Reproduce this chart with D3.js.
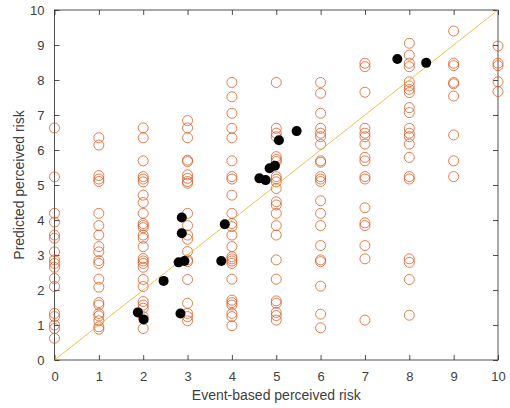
<!DOCTYPE html>
<html>
<head>
<meta charset="utf-8">
<script src="https://cdn.jsdelivr.net/npm/d3@7"></script>
<style>
  body { margin: 0; background: #fff; }
  text { font-family: "Liberation Sans", Arial, sans-serif; }
</style>
</head>
<body>
<div id="chart"></div>
<script>
// event-based risk levels and the predicted values seen at each level (open circles)
var levels = [0, 1, 2, 3, 4, 5, 6, 7, 8, 9, 10];
var predicted = [
    [6.63, 5.23, 4.19, 3.94, 3.57, 3.48, 3.09, 2.86, 2.76, 2.65, 2.33, 2.1, 1.33, 1.24, 1.0, 0.9, 0.62],
    [6.35, 6.14, 5.27, 5.17, 5.1, 4.19, 3.84, 3.57, 3.24, 3.09, 2.84, 2.76, 2.31, 2.08, 1.64, 1.57, 1.33, 1.26, 1.12, 0.95, 0.88],
    [6.63, 6.35, 5.69, 5.24, 5.17, 5.09, 4.71, 4.5, 4.19, 3.9, 3.84, 3.78, 3.57, 3.48, 3.24, 2.9, 2.83, 2.76, 2.65, 2.3, 2.1, 1.67, 1.57, 1.48, 1.24, 0.9],
    [6.84, 6.63, 6.35, 5.71, 5.67, 5.29, 5.19, 5.1, 5.05, 4.19, 3.84, 3.57, 3.45, 3.1, 2.86, 2.81, 2.3, 1.62, 1.33, 1.24, 1.12],
    [7.93, 7.52, 7.05, 6.62, 6.35, 5.69, 5.24, 5.17, 4.71, 4.19, 3.9, 3.81, 3.57, 3.24, 2.95, 2.89, 2.83, 2.76, 2.31, 1.71, 1.64, 1.57, 1.33, 1.24, 0.98],
    [7.93, 6.62, 6.48, 6.38, 5.81, 5.73, 5.67, 5.24, 5.17, 5.09, 4.9, 4.52, 4.43, 4.19, 3.84, 3.57, 2.86, 2.31, 1.69, 1.62, 1.36, 1.27, 1.14],
    [7.93, 7.62, 7.05, 6.62, 6.48, 6.38, 6.16, 5.69, 5.65, 5.24, 5.17, 5.1, 4.55, 4.19, 3.84, 3.27, 2.86, 2.81, 2.11, 1.31, 0.92],
    [8.48, 8.38, 7.65, 6.62, 6.48, 6.38, 6.17, 5.79, 5.69, 5.24, 5.17, 4.35, 3.92, 3.84, 3.27, 2.89, 1.14],
    [9.05, 8.71, 8.48, 8.38, 7.95, 7.83, 7.73, 7.64, 7.21, 7.07, 6.62, 6.48, 6.38, 6.17, 5.79, 5.24, 5.17, 2.89, 2.79, 2.3, 1.28],
    [9.4, 8.48, 8.41, 7.93, 7.89, 7.54, 6.43, 5.69, 5.24],
    [8.97, 8.48, 8.41, 7.95, 7.67]
];

// averaged points (filled black dots)
var meanX = [1.88, 2.01, 2.46, 2.84, 2.8, 2.93, 2.87, 2.87, 3.76, 3.84, 4.62, 4.76, 4.85, 4.97, 5.06, 5.46, 7.73, 8.38];
var meanY = [1.36, 1.16, 2.26, 1.33, 2.79, 2.83, 3.62, 4.07, 2.83, 3.88, 5.19, 5.14, 5.48, 5.55, 6.28, 6.54, 8.6, 8.49];

var tickValues = [0, 1, 2, 3, 4, 5, 6, 7, 8, 9, 10];

(function() {
    var width = 510,
        height = 408;
    var left = 54.5, right = 498, top = 10, bottom = 360;

    var svg = d3.select("#chart")
        .append("svg")
        .attr("width", width)
        .attr("height", height);

    var x = d3.scaleLinear().domain([0, 10]).range([left, right]);
    var y = d3.scaleLinear().domain([0, 10]).range([bottom, top]);

    var axisColor = "#262626";
    var labelColor = "#404040";

    // axes, ticks pointing inward like matlab
    function styleAxis(g) {
        g.select(".domain").remove();
        g.selectAll(".tick line").attr("stroke", axisColor).attr("stroke-width", 0.8);
        g.selectAll(".tick text").attr("fill", labelColor).attr("font-size", 13);
    }

    svg.append("g")
        .attr("transform", "translate(0," + bottom + ")")
        .call(d3.axisBottom(x).tickValues(tickValues).tickSizeInner(-5).tickPadding(12))
        .call(styleAxis);

    svg.append("g")
        .attr("transform", "translate(0," + top + ")")
        .call(d3.axisTop(x).tickValues(tickValues).tickSizeInner(-5).tickFormat(""))
        .call(styleAxis);

    svg.append("g")
        .attr("transform", "translate(" + left + ",0)")
        .call(d3.axisLeft(y).tickValues(tickValues).tickSizeInner(-5).tickPadding(10))
        .call(styleAxis);

    svg.append("g")
        .attr("transform", "translate(" + right + ",0)")
        .call(d3.axisRight(y).tickValues(tickValues).tickSizeInner(-5).tickFormat(""))
        .call(styleAxis);

    svg.append("rect")
        .attr("x", left)
        .attr("y", top)
        .attr("width", right - left)
        .attr("height", bottom - top)
        .attr("fill", "none")
        .attr("stroke", axisColor)
        .attr("stroke-width", 0.8);

    // open circles
    var points = [];
    levels.forEach(function(lv, i) {
        predicted[i].forEach(function(v) {
            points.push({ x: lv, y: v });
        });
    });

    svg.append("g")
        .selectAll("circle")
        .data(points)
        .enter().append("circle")
        .attr("cx", function(d) { return x(d.x) })
        .attr("cy", function(d) { return y(d.y) })
        .attr("r", 5)
        .attr("fill", "none")
        .attr("stroke", "#D95319")
        .attr("stroke-opacity", 0.75)
        .attr("stroke-width", 1);

    // identity line
    svg.append("line")
        .attr("x1", x(0))
        .attr("y1", y(0))
        .attr("x2", x(10))
        .attr("y2", y(10))
        .attr("stroke", "#EDB120")
        .attr("stroke-opacity", 0.8)
        .attr("stroke-width", 1);

    // filled dots
    svg.append("g")
        .selectAll("circle")
        .data(meanX)
        .enter().append("circle")
        .attr("cx", function(d) { return x(d) })
        .attr("cy", function(d, i) { return y(meanY[i]) })
        .attr("r", 5)
        .attr("fill", "#000");

    svg.append("text")
        .attr("x", (left + right) / 2)
        .attr("y", 400)
        .attr("text-anchor", "middle")
        .attr("font-size", 14)
        .attr("fill", labelColor)
        .text("Event-based perceived risk");

    svg.append("text")
        .attr("transform", "translate(24," + (top + bottom) / 2 + ") rotate(-90)")
        .attr("text-anchor", "middle")
        .attr("font-size", 14)
        .attr("fill", labelColor)
        .text("Predicted perceived risk");
})();
</script>
</body>
</html>
